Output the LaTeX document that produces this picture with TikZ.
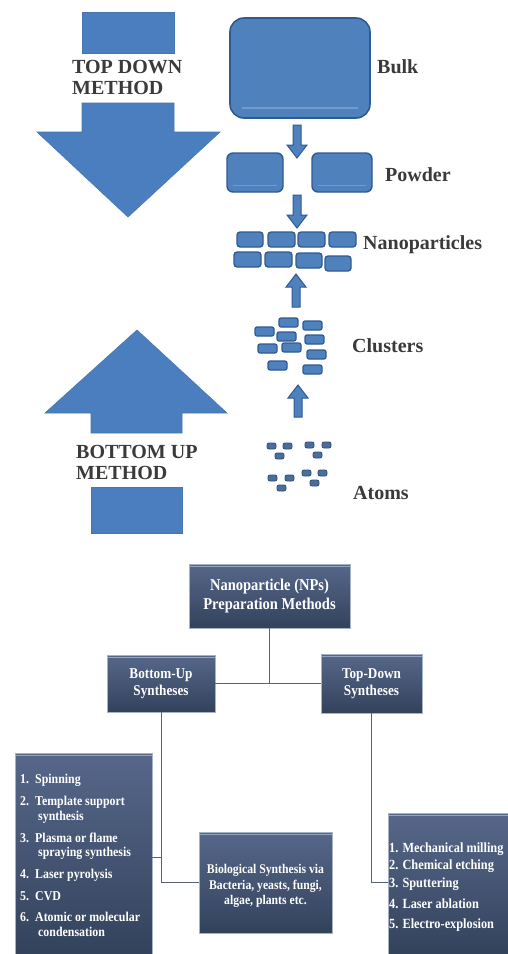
\documentclass[tikz,border=0pt]{standalone}
\usepackage{fontspec}
\setmainfont{Liberation Serif}
\newfontfamily\boxfont{Liberation Serif}[FakeStretch=0.88]
\definecolor{shapeblue}{HTML}{4F81BD}
\definecolor{shapeedge}{HTML}{2F5A90}
\definecolor{atomblue}{HTML}{4A6E9C}
\definecolor{atomedge}{HTML}{2E4C74}
\definecolor{arrowblue}{HTML}{4A7EBE}
\definecolor{arrowedge}{HTML}{4576B2}
\definecolor{labelgrey}{HTML}{3A3A3A}
\definecolor{navytop}{HTML}{56678A}
\definecolor{navybot}{HTML}{33425B}
\definecolor{navyedge}{HTML}{A7B3C4}
\definecolor{navyhi}{HTML}{93A4BE}
\definecolor{connc}{HTML}{56627A}
\newcommand\smallarrow[4]{%
  \draw[blkfill] (#1-4,#2) -- (#1-4,#3) -- (#1-10,#3) -- (#1,#4) -- (#1+10,#3) -- (#1+4,#3) -- (#1+4,#2) -- cycle;}
\begin{document}
\begin{tikzpicture}[x=1pt,y=-1pt,
  blkfill/.style={fill=shapeblue, draw=shapeedge, line width=1pt},
  atomfill/.style={fill=atomblue, draw=atomedge, line width=0.8pt},
  bigarrow/.style={fill=arrowblue, draw=arrowedge, line width=0.6pt},
  lbl/.style={font=\fontsize{20}{22}\selectfont\bfseries, text=labelgrey, anchor=west, inner sep=0pt},
  meth/.style={font=\fontsize{20}{21}\selectfont\bfseries, text=labelgrey, anchor=west, align=left, inner sep=0pt},
  navybox/.style={shading=axis, top color=navytop, bottom color=navybot, draw=navyedge, line width=0.8pt,
    text=white, inner sep=0pt, align=center,
    path picture={\draw[navyhi, line width=1.6pt] ([yshift=-2.5pt]path picture bounding box.north west) -- ([yshift=-2.5pt]path picture bounding box.north east);}},
  boxtxt/.style={text=white, inner sep=0pt, align=center},
  li/.style={text=white, inner sep=0pt, anchor=west, font=\boxfont\fontsize{13.5}{15}\selectfont\bfseries},
  ri/.style={text=white, inner sep=0pt, anchor=west, font=\boxfont\fontsize{14}{16}\selectfont\bfseries},
  conn/.style={draw=connc, line width=1pt}]
\useasboundingbox (0,0) rectangle (507,954);
\fill[white] (0,0) rectangle (507,954);

% ---------- top down arrow ----------
\draw[bigarrow] (82,12) rectangle (174,53);
\draw[bigarrow] (82,103) -- (174,103) -- (174,132) -- (220,132) -- (128,217) -- (37,132) -- (82,132) -- cycle;
\node[meth] (tdm) at (72,77.5) {TOP DOWN\\METHOD};

% ---------- bottom up arrow ----------
\draw[bigarrow] (91,433) -- (182,433) -- (182,413) -- (227,413) -- (137,330) -- (45,413) -- (91,413) -- cycle;
\draw[bigarrow] (91,487) rectangle (182,533);
\node[meth] (bum) at (76,462.5) {BOTTOM UP\\METHOD};

% ---------- bulk ----------
\draw[blkfill, line width=1.6pt, rounded corners=14pt] (230,18) rectangle (370,118);
\draw[white, opacity=0.2, line width=1.2pt] (242,108) -- (358,108);
\node[lbl] (bulkl) at (377,67) {Bulk};
\smallarrow{297}{125}{145}{158}

% ---------- powder ----------
\draw[blkfill, line width=1.4pt, rounded corners=6pt] (227,153) rectangle (283,192);
\draw[blkfill, line width=1.4pt, rounded corners=6pt] (312,153) rectangle (372,192);
\draw[white, opacity=0.2, line width=1pt] (233,185) -- (277,185);
\draw[white, opacity=0.2, line width=1pt] (318,185) -- (366,185);
\node[lbl] (powl) at (385,175) {Powder};
\smallarrow{297}{195}{215}{228}

% ---------- nanoparticles ----------
\foreach \a/\b/\c/\d in {237/232/263/247, 268/232/295/247, 298/232/325/247, 329/232/356/247,
                         234/252/261/267, 265/252/292/267, 296/253/322/268, 325/256/351/271}
  \draw[blkfill, line width=1.3pt, rounded corners=3pt] (\a,\b) rectangle (\c,\d);
\node[lbl] (nanol) at (363,245) {Nanoparticles};
\smallarrow{296}{307}{287}{274}

% ---------- clusters ----------
\foreach \a/\b in {279/318, 303/321, 255/327, 277/332, 305/335, 258/344, 282/343, 307/350, 268/361, 303/365}
  \draw[blkfill, line width=1.2pt, rounded corners=2pt] (\a,\b) rectangle ++(19,9);
\node[lbl] (clul) at (352,346) {Clusters};
\smallarrow{298}{417}{398}{385}

% ---------- atoms ----------
\foreach \a/\b in {267/443, 283/443, 275/453, 305/442, 322/442, 313/452,
                   268/475, 285/475, 277/485, 302/470, 318/470, 310/480}
  \draw[atomfill, rounded corners=2pt] (\a,\b) rectangle ++(9,6);
\node[lbl] (atoml) at (353,493) {Atoms};

% ---------- tree ----------
\node[navybox, minimum width=161pt, minimum height=64pt, font=\boxfont\fontsize{16.5}{18.5}\selectfont\bfseries]
  (root) at (269.5,596) {Nanoparticle (NPs)\\Preparation Methods};
\node[navybox, minimum width=108pt, minimum height=57pt, font=\boxfont\fontsize{15}{17}\selectfont\bfseries]
  (bu) at (161,683.5) {Bottom-Up\\Syntheses};
\node[navybox, minimum width=101pt, minimum height=59pt, font=\boxfont\fontsize{15}{17}\selectfont\bfseries]
  (td) at (371.5,683.5) {Top-Down\\Syntheses};
\node[navybox, minimum width=137pt, minimum height=203pt] (L) at (83.5,854.5) {};
\node[navybox, minimum width=133pt, minimum height=101pt] (bio) at (265.5,882.5) {};
\node[navybox, minimum width=121pt, minimum height=143pt] (R) at (448.5,884.5) {};

\draw[conn] (root.south) -- (root.south |- bu.east);
\draw[conn] (bu.east) -- (td.west);
\draw[conn] (bu.south) |- (bio.west);
\draw[conn] ([yshift=-2.5pt]L.east) -- ([yshift=-2.5pt]L.east -| bu.south);
\draw[conn] (td.south) |- ([yshift=2.5pt]R.west);

% left list
\node[li] (l1) at (20,780) {\makebox[15pt][l]{1.}Spinning};
\node[li] (l2) at (20,802) {\makebox[15pt][l]{2.}Template support};
\node[li] (l2b) at (38,817) {synthesis};
\node[li] (l3) at (20,838) {\makebox[15pt][l]{3.}Plasma or flame};
\node[li] (l3b) at (38,853) {spraying synthesis};
\node[li] (l4) at (20,875) {\makebox[15pt][l]{4.}Laser pyrolysis};
\node[li] (l5) at (20,896) {\makebox[15pt][l]{5.}CVD};
\node[li] (l6) at (20,917) {\makebox[15pt][l]{6.}Atomic or molecular};
\node[li] (l6b) at (38,932) {condensation};

% bio text
\node[boxtxt, font=\boxfont\fontsize{13.3}{15}\selectfont\bfseries] (biot) at (265.5,886)
  {Biological Synthesis via\\[1pt]Bacteria, yeasts, fungi,\\algae, plants etc.};

% right list
\node[ri] (r1) at (389,849) {1. Mechanical milling};
\node[ri] (r2) at (389,866) {2. Chemical etching};
\node[ri] (r3) at (389,884) {3. Sputtering};
\node[ri] (r4) at (389,904) {4. Laser ablation};
\node[ri] (r5) at (389,925) {5. Electro-explosion};
\end{tikzpicture}
\end{document}
